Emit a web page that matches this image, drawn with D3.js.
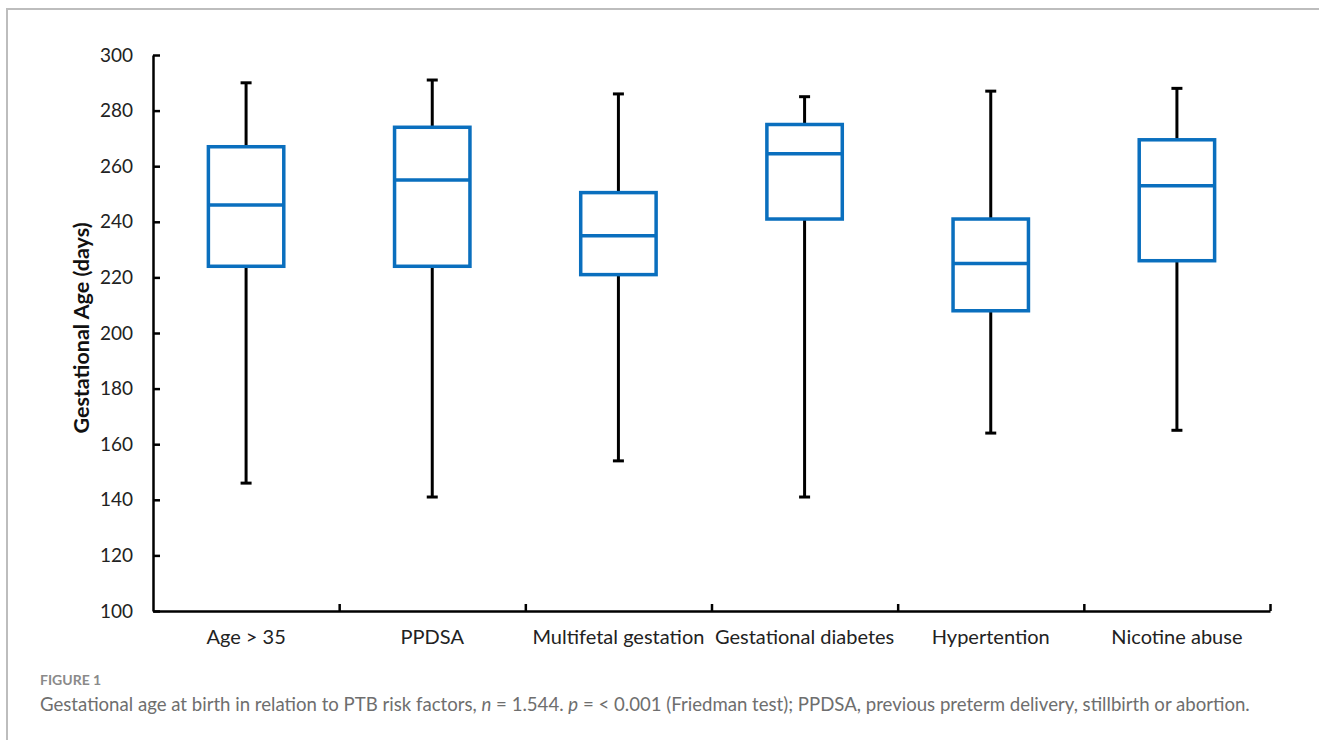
<!doctype html>
<html lang="en">
<head>
  <meta charset="UTF-8">
  <script src="https://cdn.jsdelivr.net/npm/d3@7"></script>
  <style>
    body { margin: 0; background: #fff; }
    .axis text { font-family: Lato, "Open Sans", sans-serif; fill: #222; }
    .axis path, .axis line { stroke: #000; }
  </style>
</head>
<body>
<svg id="chart" width="1319" height="740"></svg>
<script>
// data (days)
const categories = ["Age > 35", "PPDSA", "Multifetal gestation", "Gestational diabetes", "Hypertention", "Nicotine abuse"];
const minVals    = [146, 141, 154, 141, 164, 165];
const q1Vals     = [224, 224, 221, 241, 208, 226];
const medianVals = [246, 255, 235, 264.5, 225, 253];
const q3Vals     = [267, 274, 250.5, 275, 241, 269.5];
const maxVals    = [290, 291, 286, 285, 287, 288];
const yTicks = [100, 120, 140, 160, 180, 200, 220, 240, 260, 280, 300];

const svg = d3.select("#chart");
const blue = "#0a6fbe";

// frame of the figure panel
svg.append("path")
  .attr("d", "M7,740 L7,9 L1319,9")
  .attr("fill", "none")
  .attr("stroke", "#bdbdbd")
  .attr("stroke-width", 2);

let plotLeft = 153, plotRight = 1270, plotTop = 55, plotBottom = 611;

let x = d3.scaleBand().domain(categories).range([plotLeft, plotRight]).padding(0);
let xEdge = d3.scaleLinear().domain([0, categories.length]).range([plotLeft, plotRight]);
let y = d3.scaleLinear().domain([100, 300]).range([plotBottom, plotTop]);

// y axis
let yAxis = svg.append("g")
  .attr("class", "axis")
  .attr("transform", "translate(" + plotLeft + ",0)")
  .call(d3.axisLeft(y).tickValues(yTicks).tickSizeInner(-7).tickSizeOuter(0).tickPadding(20));
yAxis.selectAll("path, line").attr("stroke-width", 2.5);
yAxis.selectAll("text").style("font-size", "19px");

// x axis: labels centred on categories
let xAxis = svg.append("g")
  .attr("class", "axis")
  .attr("transform", "translate(0," + plotBottom + ")")
  .call(d3.axisBottom(x).tickSize(0).tickPadding(19));
xAxis.select("path").attr("stroke-width", 2.5);
xAxis.selectAll("text").style("font-size", "20px");

// boundary ticks between categories, pointing up
svg.append("g")
  .attr("class", "axis")
  .attr("transform", "translate(0," + plotBottom + ")")
  .call(d3.axisBottom(xEdge).tickValues(d3.range(1, categories.length + 1)).tickSize(-7).tickFormat(""))
  .call(g => g.select("path").remove())
  .selectAll("line").attr("stroke-width", 2.5);

// y axis title
svg.append("text")
  .attr("transform", "translate(89,328) rotate(-90)")
  .attr("text-anchor", "middle")
  .style("font-family", "Lato, 'Open Sans', sans-serif")
  .style("font-weight", "bold")
  .style("font-size", "21.5px")
  .attr("fill", "#111")
  .text("Gestational Age (days)");

// boxes
let boxW = x.bandwidth() * 0.405;
let capW = 11;
let boxes = svg.selectAll(".box")
  .data(categories)
  .enter().append("g")
  .attr("class", "box");

boxes.each(function(d, i) {
  let g = d3.select(this);
  let cx = x(d) + x.bandwidth() / 2;
  // whiskers
  g.append("line")
    .attr("x1", cx).attr("x2", cx)
    .attr("y1", y(maxVals[i])).attr("y2", y(q3Vals[i]))
    .attr("stroke", "#000").attr("stroke-width", 3);
  g.append("line")
    .attr("x1", cx).attr("x2", cx)
    .attr("y1", y(q1Vals[i])).attr("y2", y(minVals[i]))
    .attr("stroke", "#000").attr("stroke-width", 3);
  g.append("line")
    .attr("x1", cx - capW / 2).attr("x2", cx + capW / 2)
    .attr("y1", y(maxVals[i])).attr("y2", y(maxVals[i]))
    .attr("stroke", "#000").attr("stroke-width", 3);
  g.append("line")
    .attr("x1", cx - capW / 2).attr("x2", cx + capW / 2)
    .attr("y1", y(minVals[i])).attr("y2", y(minVals[i]))
    .attr("stroke", "#000").attr("stroke-width", 3);
  // box and median
  g.append("rect")
    .attr("x", cx - boxW / 2)
    .attr("y", y(q3Vals[i]))
    .attr("width", boxW)
    .attr("height", y(q1Vals[i]) - y(q3Vals[i]))
    .attr("fill", "#fff")
    .attr("stroke", blue).attr("stroke-width", 3.5);
  g.append("line")
    .attr("x1", cx - boxW / 2).attr("x2", cx + boxW / 2)
    .attr("y1", y(medianVals[i])).attr("y2", y(medianVals[i]))
    .attr("stroke", blue).attr("stroke-width", 3.5);
});

// caption
svg.append("text")
  .attr("x", 40).attr("y", 685)
  .style("font-family", "Lato, 'Open Sans', sans-serif")
  .style("font-size", "14px")
  .style("font-weight", "bold")
  .attr("fill", "#8a8a8a")
  .text("FIGURE 1");

let cap = svg.append("text")
  .attr("x", 40).attr("y", 711)
  .style("font-family", "Lato, 'Open Sans', sans-serif")
  .style("font-size", "18.6px")
  .attr("fill", "#6e6e6e");
cap.append("tspan").text("Gestational age at birth in relation to PTB risk factors, ");
cap.append("tspan").style("font-style", "italic").text("n");
cap.append("tspan").text(" = 1.544. ");
cap.append("tspan").style("font-style", "italic").text("p");
cap.append("tspan").text(" = < 0.001 (Friedman test); PPDSA, previous preterm delivery, stillbirth or abortion.");
</script>
</body>
</html>
